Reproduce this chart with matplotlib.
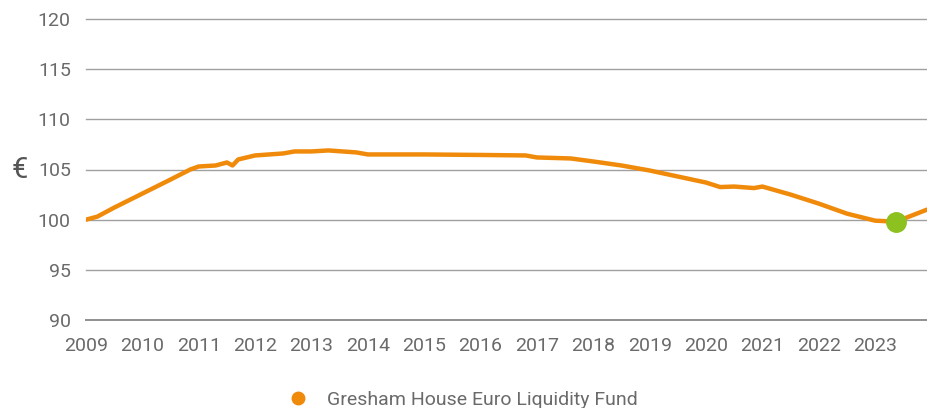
import matplotlib.pyplot as plt
from matplotlib.lines import Line2D

# fund value (EUR, rebased to 100), time in decimal years
years = [2009.0, 2009.2, 2009.5, 2010.0, 2010.5, 2010.85, 2011.0, 2011.3, 2011.5,
         2011.6, 2011.7, 2012.0, 2012.5, 2012.7, 2013.0, 2013.3, 2013.8, 2014.0,
         2015.0, 2016.0, 2016.8, 2017.0, 2017.6, 2018.0, 2018.5, 2019.0, 2019.5,
         2020.0, 2020.25, 2020.5, 2020.85, 2021.0, 2021.5, 2022.0, 2022.5, 2023.0,
         2023.37, 2023.6, 2023.92]
values = [100.0, 100.3, 101.2, 102.6, 104.0, 105.0, 105.3, 105.4, 105.7,
          105.4, 106.0, 106.4, 106.6, 106.8, 106.8, 106.9, 106.7, 106.5,
          106.5, 106.45, 106.4, 106.2, 106.1, 105.8, 105.4, 104.9, 104.3,
          103.7, 103.25, 103.3, 103.15, 103.3, 102.5, 101.6, 100.6, 99.9,
          99.8, 100.3, 101.0]
marker_year = 2023.37
marker_value = 99.8

year_ticks = list(range(2009, 2024))
value_ticks = [90, 95, 100, 105, 110, 115, 120]

orange = '#F08A0B'
green = '#8CC11F'
grey_text = '#6a6a6a'

plt.rcParams['font.family'] = ['Roboto', 'DejaVu Sans']

fig = plt.figure(figsize=(9.27, 4.08), dpi=100)
ax = fig.add_axes([86 / 927, 1 - 320 / 408, 1 - 86 / 927, 301 / 408])

ax.plot(years, values, color=orange, lw=3.2, solid_capstyle='round', zorder=3)
ax.plot([marker_year], [marker_value], 'o', color=green, ms=14, zorder=4)

ax.set_xlim(2009, 2023.92)
ax.set_ylim(90, 120)
ax.set_yticks(value_ticks)
ax.set_xticks(year_ticks)
ax.set_xticklabels([str(y) for y in year_ticks])

for v in value_ticks:
    ax.axhline(v, color='#8f8f8f' if v == 90 else '#a0a0a0',
               lw=1.4 if v == 90 else 1, zorder=1, clip_on=False)

for s in ax.spines.values():
    s.set_visible(False)
ax.tick_params(length=0, labelsize=14, colors=grey_text)
ax.tick_params(axis='y', pad=11)
ax.tick_params(axis='x', pad=12)

fig.text(20 / 927, 1 - 170 / 408, '€', fontsize=21, color='#555555',
         ha='center', va='center')

handle = Line2D([], [], marker='o', color=orange, ls='none', ms=9)
fig.legend([handle], ['Gresham House Euro Liquidity Fund'], loc='center',
           bbox_to_anchor=(458 / 927, 1 - 400 / 408), frameon=False,
           fontsize=14, labelcolor=grey_text, handletextpad=0.5)

fig.savefig('out.png', dpi=100)
